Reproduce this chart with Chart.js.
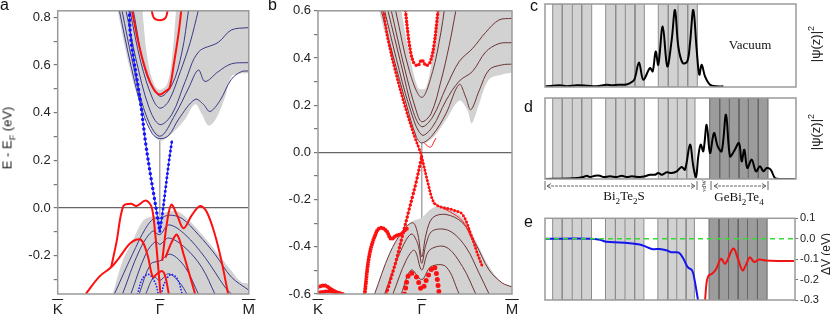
<!DOCTYPE html>
<html>
<head>
<meta charset="utf-8">
<script src="https://cdn.jsdelivr.net/npm/chart.js@4.4.0/dist/chart.umd.min.js"></script>
<style>
body { margin: 0; background: #fff; width: 830px; height: 317px; position: relative; overflow: hidden; font-family: "Liberation Sans", Arial, sans-serif; color: #111; }
canvas { position: absolute; }
.lbl { position: absolute; font-size: 16px; line-height: 16px; }
.rot { position: absolute; transform: translate(-50%, -50%) rotate(-90deg); white-space: nowrap; font-size: 13px; color: #222; }
.serif { position: absolute; font-family: "Liberation Serif", "DejaVu Serif", serif; font-size: 13px; white-space: nowrap; transform: translate(-50%, -50%); }
sub, sup { font-size: 70%; line-height: 0; }
</style>
</head>
<body>
<canvas id="chartA" width="262" height="317" style="left:0;top:0"></canvas>
<canvas id="chartB" width="268" height="317" style="left:262px;top:0"></canvas>
<canvas id="chartC" width="290" height="92" style="left:540px;top:0"></canvas>
<canvas id="chartD" width="290" height="88" style="left:540px;top:95px"></canvas>
<canvas id="chartE" width="290" height="105" style="left:540px;top:205px"></canvas>

<div class="lbl" style="left:0;top:-3px">a</div>
<div class="lbl" style="left:268px;top:-3px">b</div>
<div class="lbl" style="left:530px;top:-2px">c</div>
<div class="lbl" style="left:524px;top:99px">d</div>
<div class="lbl" style="left:524px;top:214px">e</div>
<div class="rot" style="left:7px;top:138px">E - E<sub>F</sub> (eV)</div>
<div class="rot" style="left:815px;top:44px">|ψ(z)|<sup>2</sup></div>
<div class="rot" style="left:815px;top:132px">|ψ(z)|<sup>2</sup></div>
<div class="rot" style="left:826px;top:254px;font-size:12px">ΔV (eV)</div>
<div class="serif" style="left:750px;top:45px">Vacuum</div>
<div class="serif" style="left:624px;top:196px">Bi<sub>2</sub>Te<sub>2</sub>S</div>
<div class="serif" style="left:739px;top:197px">GeBi<sub>2</sub>Te<sub>4</sub></div>
<div class="rot" style="left:704px;top:186px;font-size:6px;font-family:'Liberation Serif',serif">vdW</div>
<svg style="position:absolute;left:540px;top:178px" width="240" height="14">
  <g stroke="#666" stroke-width="1" fill="none">
    <line x1="5" y1="3" x2="5" y2="12"/><line x1="157" y1="3" x2="157" y2="12"/>
    <line x1="171" y1="3" x2="171" y2="12"/><line x1="228" y1="3" x2="228" y2="12"/>
    <line x1="7" y1="8" x2="155" y2="8" stroke-dasharray="3,1"/>
    <line x1="174" y1="8" x2="226" y2="8" stroke-dasharray="3,1"/>
    <polyline points="11,5.5 7,8 11,10.5"/><polyline points="151,5.5 155,8 151,10.5"/>
    <polyline points="178,5.5 174,8 178,10.5"/><polyline points="222,5.5 226,8 222,10.5"/>
  </g>
</svg>

<script>
// ---------- panel a : Bi2Te2S-like slab bands (k, E) ----------
const kTicks = [-1, 0, 0.87];
const kLabels = ['K', 'Γ', 'M'];

const aCondEdge = [[-0.413,0.83],[-0.332,0.654],[-0.235,0.49],[-0.139,0.38],[-0.058,0.305],[0,0.282],[0.055,0.291],[0.152,0.326],[0.248,0.373],[0.345,0.435],[0.41,0.394],[0.474,0.346],[0.539,0.367],[0.635,0.462],[0.7,0.551],[0.797,0.565],[0.87,0.565]];
const aCondInner = [[-0.171,0.83],[-0.123,0.63],[-0.058,0.52],[0,0.495],[0.071,0.52],[0.119,0.63],[0.158,0.83]];
const aValEdge = [[-0.461,-0.361],[-0.365,-0.222],[-0.268,-0.14],[-0.171,-0.057],[-0.09,-0.037],[0,-0.03],[0.087,-0.014],[0.184,-0.016],[0.313,-0.064],[0.442,-0.126],[0.571,-0.194],[0.7,-0.263],[0.797,-0.311],[0.87,-0.317]];

const aCond1 = [[-0.397,0.83],[-0.284,0.599],[-0.171,0.408],[-0.074,0.312],[0,0.291],[0.087,0.305],[0.184,0.373],[0.345,0.456],[0.426,0.435],[0.49,0.405],[0.587,0.45],[0.7,0.54],[0.797,0.572],[0.87,0.575]];
const aCond2 = [[-0.371,0.83],[-0.268,0.613],[-0.139,0.394],[0,0.301],[0.152,0.394],[0.281,0.503],[0.377,0.579],[0.442,0.531],[0.571,0.572],[0.7,0.605],[0.87,0.61]];
const aCond3 = [[-0.332,0.83],[-0.235,0.627],[-0.106,0.421],[0,0.35],[0.119,0.394],[0.248,0.531],[0.377,0.654],[0.571,0.695],[0.7,0.747],[0.87,0.757]];
const aCond4 = [[-0.294,0.83],[-0.187,0.613],[-0.074,0.462],[0,0.419],[0.087,0.449],[0.2,0.572],[0.297,0.695],[0.377,0.83]];
const aCond5 = [[-0.261,0.83],[-0.139,0.572],[0,0.469],[0.119,0.517],[0.216,0.654],[0.281,0.83]];

const aVal1 = [[-0.445,-0.361],[-0.268,-0.194],[-0.139,-0.085],[-0.058,-0.044],[0,-0.044],[0.087,-0.03],[0.216,-0.044],[0.377,-0.112],[0.539,-0.194],[0.7,-0.29],[0.87,-0.345]];
const aVal2 = [[-0.365,-0.361],[-0.203,-0.181],[-0.074,-0.098],[0,-0.112],[0.087,-0.071],[0.248,-0.112],[0.442,-0.208],[0.635,-0.331],[0.7,-0.361]];
const aVal3 = [[-0.284,-0.361],[-0.139,-0.194],[-0.042,-0.14],[0,-0.153],[0.087,-0.126],[0.248,-0.167],[0.41,-0.249],[0.539,-0.361]];
const aVal4 = [[-0.203,-0.361],[-0.09,-0.235],[0,-0.222],[0.103,-0.194],[0.248,-0.249],[0.377,-0.361]];
const aVal5 = [[-0.139,-0.361],[-0.058,-0.29],[0,-0.304],[0.087,-0.276],[0.2,-0.317],[0.265,-0.361]];

const aDiracL = [[-0.3,0.83],[-0.284,0.709],[-0.187,0.435],[-0.139,0.271],[-0.09,0.134],[-0.058,0.052],[-0.016,-0.057],[0,-0.098]];
const aDiracR = [[0,-0.098],[0.023,-0.03],[0.055,0.079],[0.087,0.189],[0.119,0.285]];
const aBlueLow1 = [[-0.219,-0.361],[-0.171,-0.297],[-0.106,-0.279],[-0.042,-0.318],[-0.016,-0.361]];
const aBlueLow2 = [[0.016,-0.361],[0.042,-0.318],[0.106,-0.279],[0.171,-0.297],[0.219,-0.361]];

const aRed1 = [[-0.081,0.83],[-0.058,0.798],[0,0.788],[0.055,0.798],[0.077,0.83]];
const aRed2 = [[-0.274,0.83],[-0.203,0.681],[-0.123,0.558],[-0.058,0.497],[0,0.476],[0.055,0.49],[0.094,0.503],[0.135,0.599],[0.184,0.736],[0.21,0.83]];
const aRed3 = [[-0.726,-0.361],[-0.59,-0.287],[-0.477,-0.249],[-0.397,-0.208],[-0.284,-0.146],[-0.187,-0.133],[-0.123,-0.194],[-0.068,-0.29],[-0.026,-0.276],[0.023,-0.265],[0.055,-0.29],[0.087,-0.361]];
const aRed4 = [[-0.477,-0.249],[-0.423,-0.14],[-0.358,0.008],[-0.284,0.018],[-0.229,0.008],[-0.139,0.031],[-0.081,0.004],[-0.048,-0.098],[-0.016,-0.249],[0.006,-0.361]];
const aRed5 = [[0.023,-0.222],[0.071,-0.057],[0.113,0.014],[0.168,-0.03],[0.232,-0.085],[0.313,-0.03],[0.394,0.008],[0.458,-0.016],[0.539,-0.112],[0.603,-0.222],[0.668,-0.361]];
const aRed6 = [[0.055,-0.208],[0.119,-0.14],[0.168,-0.112],[0.232,-0.194],[0.297,-0.29],[0.345,-0.361]];

// ---------- panel b : heterostructure bands (k, E) ----------
const bCondEdge = [[-0.412,0.601],[-0.31,0.426],[-0.182,0.219],[-0.086,0.095],[0,0.04],[0.105,0.061],[0.233,0.137],[0.361,0.219],[0.441,0.178],[0.482,0.123],[0.553,0.206],[0.649,0.309],[0.776,0.33],[0.87,0.337]];
const bCondInner = [[-0.198,0.601],[-0.118,0.412],[-0.038,0.274],[0,0.268],[0.042,0.274],[0.105,0.412],[0.153,0.601]];
const bValEdge = [[-0.454,-0.6],[-0.31,-0.429],[-0.182,-0.332],[-0.086,-0.291],[0,-0.277],[0.105,-0.236],[0.233,-0.229],[0.393,-0.277],[0.521,-0.374],[0.649,-0.484],[0.776,-0.553],[0.87,-0.567]];

const bCond1 = [[-0.39,0.601],[-0.278,0.412],[-0.15,0.206],[-0.054,0.068],[0,0.04],[0.105,0.074],[0.233,0.164],[0.361,0.288],[0.425,0.233],[0.473,0.181],[0.553,0.261],[0.649,0.35],[0.776,0.371],[0.87,0.374]];
const bCond2 = [[-0.358,0.601],[-0.246,0.399],[-0.118,0.192],[0,0.074],[0.105,0.109],[0.233,0.219],[0.361,0.302],[0.489,0.343],[0.617,0.426],[0.744,0.461],[0.87,0.465]];
const bCond3 = [[-0.326,0.601],[-0.198,0.371],[-0.086,0.178],[0,0.109],[0.105,0.15],[0.233,0.274],[0.361,0.385],[0.489,0.44],[0.617,0.509],[0.744,0.561],[0.87,0.568]];
const bCond4 = [[-0.294,0.601],[-0.166,0.357],[-0.054,0.178],[0,0.13],[0.089,0.164],[0.185,0.302],[0.265,0.454],[0.329,0.601]];
const bCond5 = [[-0.252,0.601],[-0.118,0.343],[0,0.233],[0.105,0.343],[0.185,0.509],[0.217,0.601]];

const bVal1 = [[-0.454,-0.6],[-0.31,-0.429],[-0.182,-0.332],[-0.086,-0.298],[-0.038,-0.346],[0,-0.443],[0.042,-0.346],[0.105,-0.277],[0.233,-0.263],[0.393,-0.298],[0.521,-0.388],[0.649,-0.498],[0.776,-0.553],[0.87,-0.57]];
const bVal2 = [[-0.358,-0.6],[-0.214,-0.429],[-0.102,-0.346],[-0.038,-0.388],[0,-0.47],[0.042,-0.388],[0.105,-0.332],[0.265,-0.332],[0.425,-0.401],[0.553,-0.512],[0.649,-0.6]];
const bVal3 = [[-0.278,-0.6],[-0.15,-0.457],[-0.07,-0.415],[0,-0.498],[0.073,-0.415],[0.233,-0.401],[0.393,-0.484],[0.521,-0.6]];
const bVal4 = [[-0.198,-0.6],[-0.102,-0.498],[0,-0.539],[0.089,-0.484],[0.233,-0.484],[0.361,-0.6]];

const bDiracUL = [[-0.37,0.6],[-0.326,0.481],[-0.246,0.33],[-0.15,0.178],[-0.07,0.068],[-0.022,0.012],[0,-0.018]];
const bDiracLL = [[-0.342,-0.6],[-0.31,-0.553],[-0.246,-0.457],[-0.182,-0.346],[-0.118,-0.236],[-0.054,-0.126],[0,-0.018]];
const bDiracLR = [[0,-0.018],[0.058,-0.126],[0.112,-0.208],[0.169,-0.229],[0.297,-0.243],[0.393,-0.263],[0.473,-0.346],[0.537,-0.429],[0.585,-0.484]];
const bRedTop = [[-0.157,0.6],[-0.118,0.454],[-0.08,0.382],[-0.038,0.368],[0,0.392],[0.042,0.368],[0.08,0.382],[0.118,0.454],[0.157,0.6]];
const bRedGamma = [[0.026,0.04],[0.058,0.026],[0.089,0.023],[0.112,0.04],[0.137,0.061]];
const bRedBlob = [[-0.55,-0.6],[-0.502,-0.429],[-0.431,-0.332],[-0.39,-0.319],[-0.342,-0.332],[-0.294,-0.367],[-0.246,-0.353],[-0.198,-0.346],[-0.166,-0.332],[-0.134,-0.319]];
const bRedK1 = [[-1,-0.57],[-0.933,-0.564],[-0.869,-0.581],[-0.789,-0.6]];
const bRedK2 = [[-1,-0.594],[-0.885,-0.589],[-0.757,-0.6]];
const bRedLow = [[-0.166,-0.6],[-0.118,-0.512],[-0.054,-0.526],[0,-0.581],[0.058,-0.526],[0.121,-0.484],[0.169,-0.6]];
const bRedVal = [[0.105,-0.215],[0.265,-0.25],[0.393,-0.291],[0.489,-0.374]];

// ---------- panels c, d, e : layer profiles along z ----------
const lightLayers1 = [0.77, 1.73, 2.73, 3.67, 4.67];
const lightLayers2 = [6.07, 7.07, 8.03, 9.0, 9.93];
const lightLayers3c = [11.33, 12.33, 13.3, 14.27, 15.23];
const lightLayers3 = [11.33, 12.33, 13.23, 14.17, 15.0];
const darkLayers = [16.47, 17.47, 18.43, 19.4, 20.33, 21.33, 22.3];

const psiC = [[0,0.008],[1.5,0.02],[2.17,0.008],[3.17,0.02],[4.17,0.016],[5.17,0.008],[6.17,0.028],[6.67,0.02],[7.33,0.028],[8.0,0.028],[8.5,0.048],[8.93,0.088],[9.4,0.296],[9.83,0.088],[10.5,0.228],[10.77,0.188],[11.07,0.428],[11.33,0.268],[11.77,0.728],[12.23,0.248],[12.67,0.568],[13.0,0.928],[13.33,0.488],[13.77,0.288],[14.23,0.308],[14.5,0.528],[14.83,0.928],[15.17,0.448],[15.43,0.148],[15.67,0.268],[16.0,0.128],[16.5,0.028],[17.17,0.008],[17.83,0.008]];
const psiD = [[0,0],[2.83,0.008],[3.83,0.025],[4.17,0.041],[4.5,0.025],[5.0,0.041],[5.5,0.041],[5.83,0.025],[6.5,0.033],[7.17,0.025],[7.67,0.041],[8.17,0.025],[8.67,0.033],[9.5,0.025],[10.0,0.033],[10.5,0.053],[11.0,0.053],[11.33,0.074],[11.67,0.053],[12.17,0.082],[12.67,0.074],[13.17,0.095],[13.67,0.148],[14.0,0.115],[14.5,0.424],[14.83,0.156],[15.1,0.025],[15.33,0.28],[15.57,0.424],[15.83,0.342],[16.17,0.671],[16.5,0.321],[16.9,0.568],[17.27,0.403],[17.67,0.342],[18.1,0.794],[18.5,0.28],[18.9,0.342],[19.4,0.444],[19.67,0.218],[19.93,0.362],[20.23,0.136],[20.67,0.239],[21.1,0.095],[21.5,0.156],[21.83,0.095],[22.17,0.136],[22.57,0.115],[23.0,0.012],[23.5,0],[25.0,0]];
const dvBlue = [[0,0],[4.5,0],[5.5,-0.005],[6.17,-0.015],[7.5,-0.018],[8.5,-0.022],[9.5,-0.028],[10.17,-0.04],[10.83,-0.051],[11.5,-0.05],[12.17,-0.056],[12.67,-0.066],[13.43,-0.068],[13.9,-0.098],[14.33,-0.139],[14.77,-0.155],[15.03,-0.205],[15.23,-0.262],[15.37,-0.303]];
const dvRed = [[16.07,-0.303],[16.23,-0.213],[16.43,-0.18],[16.77,-0.172],[17.17,-0.15],[17.67,-0.098],[18.1,-0.122],[18.9,-0.048],[19.37,-0.098],[19.83,-0.155],[20.23,-0.122],[20.57,-0.091],[21.0,-0.114],[21.5,-0.102],[22.17,-0.107],[23.5,-0.109],[25.0,-0.109]];
const dvZero = [[0,0],[25.1,0]];

// ---------- helpers ----------
const GRAY = '#d2d2d2';

function fillSet(d, color, fill, order) {
  return { data: d, borderWidth: 0, backgroundColor: color, fill: fill, tension: 0.35, order: order };
}
function lineSet(d, color, w, order) {
  return { data: d, borderColor: color, borderWidth: w, fill: false, tension: 0.35, order: order };
}
function dotSet(d, color, w, gap, order) {
  return { data: d, borderColor: color, borderWidth: w, borderDash: [0, gap], borderCapStyle: 'round', fill: false, tension: 0.35, order: order };
}
// one shaded block of layers plus its separating lines
function layerSets(edges, shade, lines, ymin, ymax) {
  var zig = [];
  edges.forEach(function (x, i) {
    if (i % 2 == 0) { zig.push([x, ymin]); zig.push([x, ymax]); }
    else { zig.push([x, ymax]); zig.push([x, ymin]); }
  });
  return [
    { data: [[edges[0], ymax], [edges[edges.length - 1], ymax]], borderWidth: 0, backgroundColor: shade, fill: { value: ymin }, order: 9 },
    { data: zig, borderColor: lines, borderWidth: 1, fill: false, tension: 0, order: 8 }
  ];
}

const frame = {
  id: 'frame',
  afterDraw(chart) {
    const a = chart.chartArea, ctx = chart.ctx;
    ctx.save();
    ctx.strokeStyle = '#9a9a9a';
    ctx.lineWidth = 1.5;
    ctx.strokeRect(a.left, a.top, a.right - a.left, a.bottom - a.top);
    ctx.restore();
  }
};

const overline = {
  id: 'overline',
  afterDraw(chart) {
    const sc = chart.scales.x, ctx = chart.ctx;
    ctx.save();
    ctx.font = '15px "Liberation Sans"';
    ctx.strokeStyle = '#222';
    ctx.lineWidth = 1;
    sc.ticks.forEach(function (t, i) {
      const w = ctx.measureText(kLabels[i]).width + 1;
      const px = sc.getPixelForValue(t.value);
      const y = chart.chartArea.bottom + 5.5;
      ctx.beginPath();
      ctx.moveTo(px - w / 2, y);
      ctx.lineTo(px + w / 2, y);
      ctx.stroke();
    });
    ctx.restore();
  }
};

function bandOptions(ymin, ymax, yWidth, pad) {
  return {
    responsive: false,
    animation: false,
    layout: { padding: pad },
    elements: { point: { radius: 0 } },
    plugins: { legend: { display: false }, tooltip: { enabled: false } },
    scales: {
      x: {
        type: 'linear', min: -1, max: 0.87, z: 1,
        afterBuildTicks: function (s) { s.ticks = kTicks.map(function (v) { return { value: v }; }); },
        afterFit: function (s) { s.height = 23; },
        ticks: { autoSkip: false, maxRotation: 0, padding: 7, color: '#222', font: { size: 15, family: 'Liberation Sans' },
          callback: function (v, i) { return kLabels[i]; } },
        grid: { drawTicks: false, lineWidth: 1.5, color: function (c) { return c.tick && c.tick.value === 0 ? '#a8a8a8' : 'rgba(0,0,0,0)'; } },
        border: { display: false }
      },
      y: {
        min: ymin, max: ymax, z: 1,
        afterFit: function (s) { s.width = yWidth; },
        ticks: { stepSize: 0.1, includeBounds: false, padding: 3, color: '#222', font: { size: 13, family: 'Liberation Sans' },
          callback: function (v) {
            if (Math.round(v * 10) % 2 !== 0) return '';
            return Math.abs(v) < 1e-9 ? '0.0' : v.toFixed(1);
          } },
        grid: { tickLength: 4, tickColor: '#777', lineWidth: 1.2, color: function (c) { return c.tick && Math.abs(c.tick.value) < 1e-9 ? '#666' : 'rgba(0,0,0,0)'; } },
        border: { display: false }
      }
    }
  };
}

function profileOptions(ymin, ymax, pad, rightAxis) {
  const o = {
    responsive: false,
    animation: false,
    layout: { padding: pad },
    elements: { point: { radius: 0 } },
    plugins: { legend: { display: false }, tooltip: { enabled: false } },
    scales: {
      x: { type: 'linear', min: 0, max: 25.1, display: false },
      y: { min: ymin, max: ymax, display: false }
    }
  };
  if (rightAxis) {
    o.scales.y = {
      min: ymin, max: ymax, position: 'right',
      afterFit: function (s) { s.width = 35; },
      ticks: { stepSize: 0.05, padding: 2, color: '#222', font: { size: 11, family: 'Liberation Sans' },
        callback: function (v) {
          if (Math.round(v * 20) % 2 !== 0) return '';
          return Math.abs(v) < 1e-9 ? '0.0' : v.toFixed(1);
        } },
      grid: { drawOnChartArea: false, tickLength: 3, tickColor: '#777' },
      border: { display: false }
    };
  }
  return o;
}

// ---------- chart a ----------
const NAVY = '#3a3a86';
new Chart(document.getElementById('chartA'), {
  type: 'line',
  data: {
    datasets: [
      fillSet(aCondEdge, GRAY, 'end', 10),
      fillSet(aCondInner, '#ffffff', 'end', 9),
      fillSet(aValEdge, GRAY, 'start', 10),
      lineSet(aCond1, NAVY, 1, 5), lineSet(aCond2, NAVY, 1, 5), lineSet(aCond3, NAVY, 1, 5),
      lineSet(aCond4, NAVY, 1, 5), lineSet(aCond5, NAVY, 1, 5),
      lineSet(aVal1, NAVY, 1, 5), lineSet(aVal2, NAVY, 1, 5), lineSet(aVal3, NAVY, 1, 5),
      lineSet(aVal4, NAVY, 1, 5), lineSet(aVal5, NAVY, 1, 5),
      lineSet(aDiracL, '#2a2aee', 1, 4), lineSet(aDiracR, '#2a2aee', 1, 4),
      dotSet(aDiracL, '#1414ff', 3.5, 5, 3), dotSet(aDiracR, '#1414ff', 3, 4.5, 3),
      dotSet(aBlueLow1, '#1e1eff', 1.8, 3, 3), dotSet(aBlueLow2, '#1e1eff', 1.8, 3, 3),
      lineSet(aRed1, '#ff1010', 2, 2), lineSet(aRed2, '#ff1010', 2, 2), lineSet(aRed3, '#ff1010', 2, 2),
      lineSet(aRed4, '#ff1010', 2, 2), lineSet(aRed5, '#ff1010', 2, 2), lineSet(aRed6, '#ff1010', 2, 2)
    ]
  },
  options: bandOptions(-0.361, 0.8275, 57.7, { left: 0, right: 11.3, top: 4.3, bottom: 0 }),
  plugins: [frame, overline]
});

// ---------- chart b ----------
const BROWN = '#6e3434';
new Chart(document.getElementById('chartB'), {
  type: 'line',
  data: {
    datasets: [
      fillSet(bCondEdge, GRAY, 'end', 10),
      fillSet(bCondInner, '#ffffff', 'end', 9),
      fillSet(bValEdge, GRAY, 'start', 10),
      lineSet(bCond1, BROWN, 1, 5), lineSet(bCond2, BROWN, 1, 5), lineSet(bCond3, BROWN, 1, 5),
      lineSet(bCond4, BROWN, 1, 5), lineSet(bCond5, BROWN, 1, 5),
      lineSet(bVal1, BROWN, 1, 5), lineSet(bVal2, BROWN, 1, 5), lineSet(bVal3, BROWN, 1, 5), lineSet(bVal4, BROWN, 1, 5),
      lineSet(bRedGamma, '#ff2020', 1, 4), lineSet(bRedVal, '#ff2020', 1, 4),
      lineSet(bDiracUL, '#ff2020', 1, 4), lineSet(bDiracLL, '#ff2020', 1, 4), lineSet(bDiracLR, '#ff2020', 1, 4),
      lineSet(bRedTop, '#ff2020', 1, 4),
      dotSet(bDiracUL, '#ff1010', 3, 3.5, 3), dotSet(bDiracLL, '#ff1010', 3.5, 4, 3), dotSet(bDiracLR, '#ff1010', 3, 3.5, 3),
      dotSet(bRedTop, '#ff1010', 3.5, 3.5, 3), dotSet(bRedBlob, '#ff1010', 4, 2.5, 3),
      dotSet(bRedK1, '#ff1010', 4, 2.5, 3), dotSet(bRedK2, '#ff1010', 4, 2.5, 3),
      dotSet(bRedLow, '#ff1010', 5, 6, 3)
    ]
  },
  options: bandOptions(-0.6, 0.6, 56, { left: 0, right: 18, top: 4.7, bottom: 0 }),
  plugins: [frame, overline]
});

// ---------- chart c ----------
new Chart(document.getElementById('chartC'), {
  type: 'line',
  data: {
    datasets: [].concat(
      layerSets(lightLayers1, GRAY, '#8c8c8c', 0, 1),
      layerSets(lightLayers2, GRAY, '#8c8c8c', 0, 1),
      layerSets(lightLayers3c, GRAY, '#8c8c8c', 0, 1),
      [lineSet(psiC, '#000', 2, 1)]
    )
  },
  options: profileOptions(0, 1, { left: 5, right: 34, top: 4, bottom: 5 }, false),
  plugins: [frame]
});

// ---------- chart d ----------
new Chart(document.getElementById('chartD'), {
  type: 'line',
  data: {
    datasets: [].concat(
      layerSets(lightLayers1, GRAY, '#8c8c8c', 0, 1),
      layerSets(lightLayers2, GRAY, '#8c8c8c', 0, 1),
      layerSets(lightLayers3, GRAY, '#8c8c8c', 0, 1),
      layerSets(darkLayers, '#9c9c9c', '#666666', 0, 1),
      [lineSet(psiD, '#000', 2, 1)]
    )
  },
  options: profileOptions(0, 1, { left: 5, right: 34, top: 3, bottom: 4 }, false),
  plugins: [frame]
});

// ---------- chart e ----------
const eSets = [].concat(
  layerSets(lightLayers1, GRAY, '#8c8c8c', -0.3, 0.1),
  layerSets(lightLayers2, GRAY, '#8c8c8c', -0.3, 0.1),
  layerSets(lightLayers3, GRAY, '#8c8c8c', -0.3, 0.1),
  layerSets(darkLayers, '#9c9c9c', '#666666', -0.3, 0.1),
  [lineSet(dvBlue, '#1414ee', 2, 2), lineSet(dvRed, '#ee1414', 2, 2)]
);
eSets.push({ data: dvZero, borderColor: '#33dd33', borderWidth: 1.5, borderDash: [5, 4], fill: false, order: 1 });
new Chart(document.getElementById('chartE'), {
  type: 'line',
  data: { datasets: eSets },
  options: profileOptions(-0.3, 0.1, { left: 5, right: 0, top: 13.3, bottom: 10 }, true),
  plugins: [frame]
});
</script>
</body>
</html>
